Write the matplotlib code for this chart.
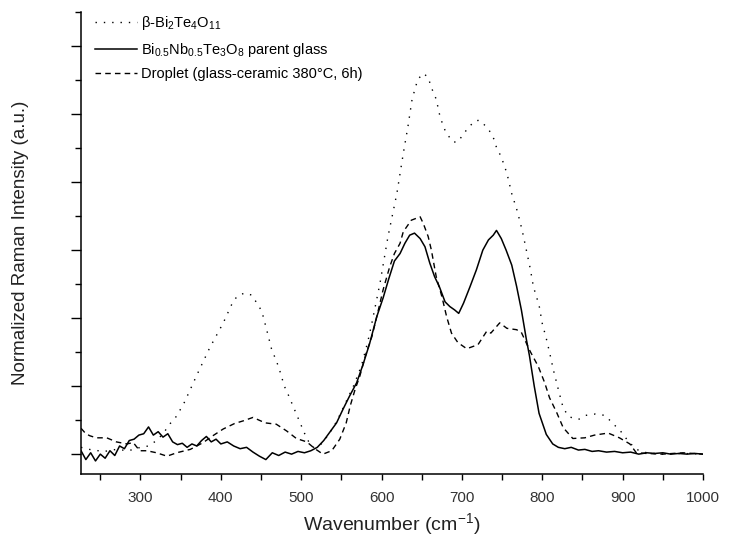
import numpy as np
import matplotlib
matplotlib.use('Agg')
import matplotlib.pyplot as plt
from matplotlib.ticker import MultipleLocator, NullFormatter

plt.rcParams['font.family'] = ['Liberation Sans', 'DejaVu Sans']
plt.rcParams['mathtext.default'] = 'regular'

# Raman spectra (y in units of the major y ticks)
glass_x = [226, 232, 238, 244, 250, 256, 262, 268, 274, 280, 286, 292, 298, 304, 310, 316,
           322, 328, 334, 340, 346, 352, 358, 364, 370, 376, 382, 388, 394, 400, 408, 416,
           424, 432, 440, 448, 456, 464, 472, 480, 488, 496, 504, 512, 520, 528, 536, 544,
           552, 560, 569, 577, 585, 594, 602, 609, 616, 623, 629, 635, 641, 648, 654, 660,
           666, 672, 679, 685, 691, 696, 702, 710, 718, 726, 733, 739, 743, 749, 755, 762,
           768, 774, 780, 784, 790, 796, 805, 813, 820, 828, 836, 845, 853, 862, 870, 880,
           890, 900, 910, 920, 930, 940, 950, 960, 970, 980, 990, 1000]
glass_y = [0.05, -0.08, 0.02, -0.10, 0.00, -0.06, 0.05, -0.02, 0.12, 0.08, 0.20, 0.22, 0.28, 0.30, 0.40, 0.28,
           0.33, 0.25, 0.30, 0.18, 0.14, 0.16, 0.10, 0.15, 0.12, 0.20, 0.26, 0.18, 0.22, 0.15, 0.18, 0.12,
           0.08, 0.10, 0.03, -0.03, -0.08, 0.02, -0.02, 0.03, 0.00, 0.04, 0.02, 0.05, 0.10, 0.20, 0.33, 0.46,
           0.66, 0.85, 1.05, 1.32, 1.62, 2.02, 2.30, 2.58, 2.84, 2.95, 3.10, 3.22, 3.25, 3.17, 3.05, 2.81,
           2.61, 2.46, 2.24, 2.17, 2.12, 2.07, 2.22, 2.46, 2.71, 3.00, 3.15, 3.22, 3.29, 3.17, 3.00, 2.78,
           2.47, 2.12, 1.70, 1.45, 1.00, 0.60, 0.29, 0.15, 0.10, 0.08, 0.10, 0.06, 0.07, 0.04, 0.05, 0.03,
           0.04, 0.02, 0.03, 0.00, 0.02, 0.01, 0.02, 0.00, 0.01, 0.00, 0.01, 0.00]

beta_x = [226, 240, 255, 270, 285, 300, 310, 320, 328, 337, 345, 355, 370, 386, 403, 415,
          421, 430, 438, 445, 451, 457, 463, 472, 479, 484, 494, 499, 504, 509, 515, 525,
          535, 545, 555, 565, 575, 583, 588, 598, 608, 619, 627, 633, 638, 645, 652, 658,
          662, 668, 673, 680, 689, 695, 702, 708, 716, 722, 729, 734, 740, 743, 749, 756,
          762, 769, 775, 780, 785, 789, 796, 800, 805, 809, 814, 820, 826, 833, 845, 854,
          866, 878, 888, 898, 907, 917, 930, 950, 975, 1000]
beta_y = [0.10, 0.06, 0.04, 0.07, 0.05, 0.10, 0.12, 0.20, 0.30, 0.45, 0.56, 0.77, 1.16, 1.56, 1.93, 2.24,
          2.33, 2.37, 2.34, 2.22, 2.10, 1.83, 1.55, 1.28, 1.00, 0.87, 0.59, 0.45, 0.31, 0.19, 0.10, 0.15,
          0.30, 0.50, 0.75, 1.00, 1.30, 1.66, 1.93, 2.51, 3.20, 3.83, 4.42, 4.83, 5.22, 5.51, 5.60, 5.54,
          5.39, 5.22, 4.95, 4.73, 4.59, 4.59, 4.71, 4.80, 4.90, 4.91, 4.83, 4.76, 4.63, 4.51, 4.37, 4.13,
          3.83, 3.57, 3.29, 3.01, 2.73, 2.46, 2.19, 1.92, 1.70, 1.50, 1.23, 0.95, 0.68, 0.55, 0.51, 0.57,
          0.59, 0.57, 0.45, 0.33, 0.19, 0.07, 0.02, 0.00, 0.01, 0.00]

drop_x = [226, 232, 237, 245, 258, 270, 283, 291, 299, 308, 320, 333, 345, 362, 378, 390,
          403, 417, 428, 440, 455, 469, 482, 494, 507, 517, 527, 538, 548, 556, 561, 567,
          573, 581, 588, 594, 602, 610, 616, 623, 627, 637, 648, 652, 658, 662, 668, 675,
          681, 687, 695, 706, 713, 720, 731, 736, 747, 756, 768, 774, 785, 795, 803, 809,
          818, 826, 838, 853, 865, 882, 896, 909, 917, 930, 950, 975, 1000]
drop_y = [0.38, 0.30, 0.27, 0.24, 0.24, 0.18, 0.15, 0.17, 0.05, 0.05, 0.02, -0.03, 0.02, 0.07, 0.17, 0.27,
          0.37, 0.45, 0.49, 0.54, 0.46, 0.44, 0.34, 0.23, 0.18, 0.08, 0.00, 0.05, 0.22, 0.46, 0.71, 0.95,
          1.15, 1.49, 1.73, 2.02, 2.42, 2.75, 2.95, 3.10, 3.27, 3.44, 3.49, 3.39, 3.20, 3.00, 2.61, 2.32,
          2.02, 1.78, 1.64, 1.55, 1.58, 1.61, 1.81, 1.78, 1.93, 1.85, 1.83, 1.79, 1.51, 1.29, 1.05, 0.83,
          0.61, 0.39, 0.23, 0.24, 0.28, 0.31, 0.24, 0.15, 0.02, 0.01, 0.00, 0.02, 0.00]

labels = ['β-Bi$_2$Te$_4$O$_{11}$',
          'Bi$_{0.5}$Nb$_{0.5}$Te$_3$O$_8$ parent glass',
          'Droplet (glass-ceramic 380°C, 6h)']

fig = plt.figure(figsize=(7.3, 5.51), dpi=100)
ax = fig.add_axes([0.111, 0.14, 0.852, 0.838])

ax.plot(beta_x, beta_y, color='black', lw=1.0, linestyle=(0, (1, 5)), label=labels[0])
ax.plot(glass_x, glass_y, color='black', lw=1.1, linestyle='-', label=labels[1])
ax.plot(drop_x, drop_y, color='black', lw=1.0, linestyle=(0, (4, 3)), label=labels[2])

ax.set_xlim(226, 1000)
ax.set_ylim(-0.29, 6.5)

ax.spines['top'].set_visible(False)
ax.spines['right'].set_visible(False)
for s in ['left', 'bottom']:
    ax.spines[s].set_linewidth(1.1)

ax.xaxis.set_major_locator(MultipleLocator(100))
ax.xaxis.set_minor_locator(MultipleLocator(50))
ax.yaxis.set_major_locator(MultipleLocator(1))
ax.yaxis.set_minor_locator(MultipleLocator(0.5))
ax.yaxis.set_major_formatter(NullFormatter())
ax.tick_params(axis='x', which='both', direction='out', length=4, width=1, labelsize=11,
               labelcolor='#333333', pad=8)
ax.tick_params(axis='y', which='major', direction='out', length=7, width=1)
ax.tick_params(axis='y', which='minor', direction='out', length=4, width=1)

ax.set_xlabel('Wavenumber (cm$^{-1}$)', fontsize=14, color='#222222', labelpad=5)
ax.set_ylabel('Normalized Raman Intensity (a.u.)', fontsize=13.5, color='#222222', labelpad=27)

ax.legend(loc='upper left', bbox_to_anchor=(0.008, 1.015), frameon=False, fontsize=10.5,
          handlelength=2.9, handletextpad=0.25, labelspacing=0.6, borderaxespad=0.2)

plt.savefig('out.png', dpi=100)
